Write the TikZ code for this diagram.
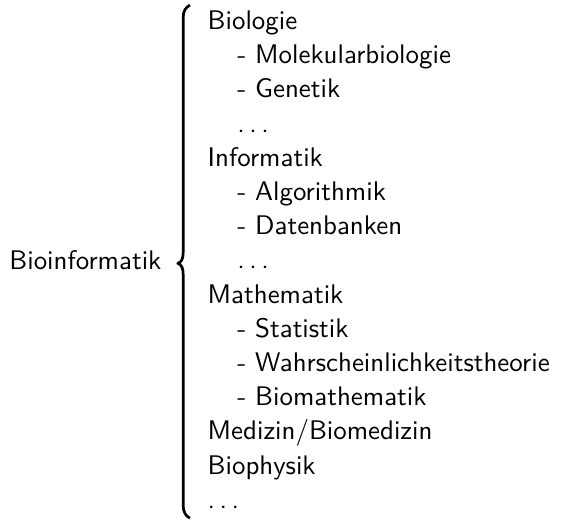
\documentclass[tikz,border=0pt]{standalone}
\newcommand{\sdots}{.\kern1.68pt.\kern1.68pt.}
\newcommand{\ind}{\hspace*{11pt}}
\begin{document}
\begin{tikzpicture}[x=1pt,y=1pt,
  every node/.style={inner sep=0pt, outer sep=0pt, font=\sffamily},
  bracestyle/.style={line width=1pt, line cap=butt, line join=round}]
\useasboundingbox (0,0) rectangle (208.9,193.7);
\node[anchor=base west] (root) at (3.5,93.5) {Bioinformatik};
\node[anchor=north west] (list) at (77.2,191.6) {%
\renewcommand{\arraystretch}{1.059}%
\begin{tabular}{@{}l@{}}
Biologie\\
\ind- Molekularbiologie\\
\ind- Genetik\\
\ind\sdots\\
Informatik\\
\ind- Algorithmik\\
\ind- Datenbanken\\
\ind\sdots\\
Mathematik\\
\ind- Statistik\\
\ind- Wahrscheinlichkeitstheorie\\
\ind- Biomathematik\\
Medizin/Biomedizin\\
Biophysik\\
\sdots
\end{tabular}};
\coordinate (btop) at (70.6,191.8);
\coordinate (bbot) at (70.6,1.1);
\coordinate (btip) at (66.1,95.8);
\draw[bracestyle] (btop) .. controls (69.0,191.0) and (68.1,189.5) .. (68.1,187.4)
  -- (68.1,100.1) .. controls (68.1,97.5) and (67.5,96.3) .. (btip)
  .. controls (67.5,95.3) and (68.1,94.1) .. (68.1,91.5)
  -- (68.1,5.6) .. controls (68.1,3.5) and (69.0,1.9) .. (bbot);
\end{tikzpicture}
\end{document}
